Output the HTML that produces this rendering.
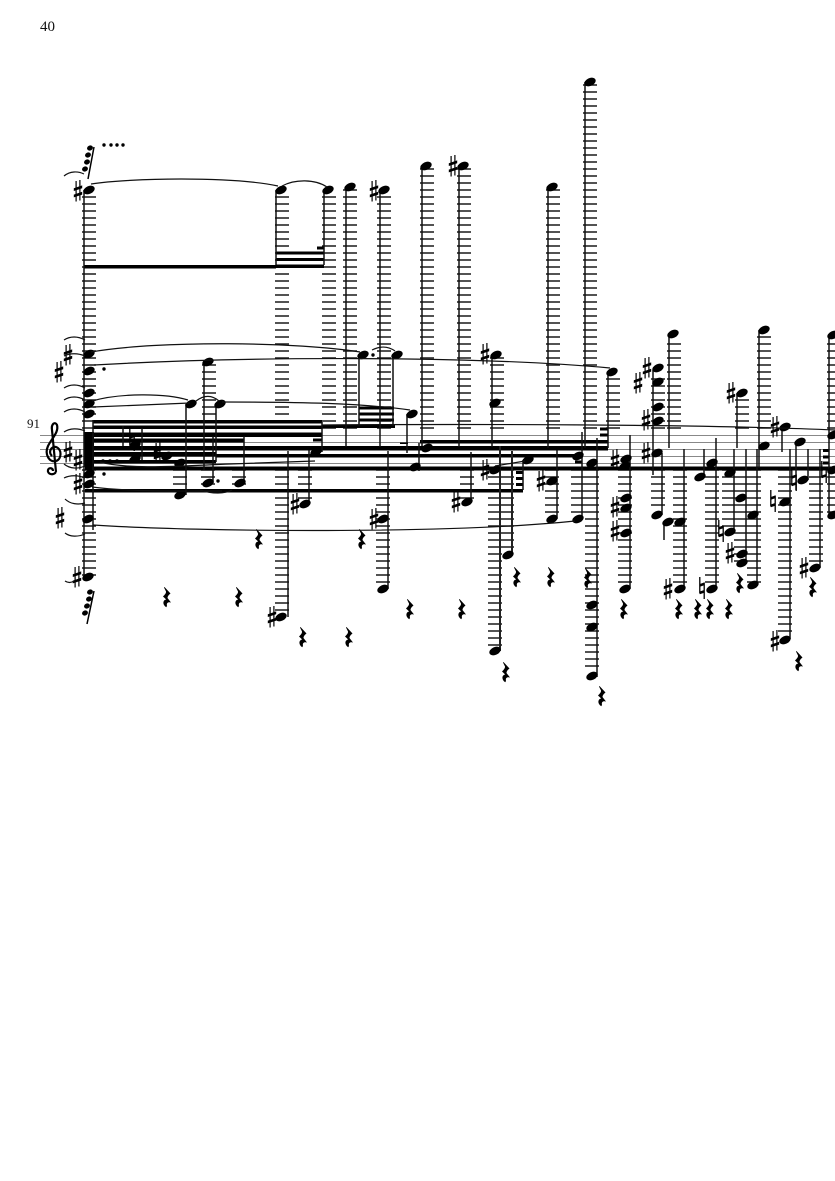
<!DOCTYPE html>
<html><head><meta charset="utf-8"><title>Score page 40</title>
<style>html,body{margin:0;padding:0;background:#fff}svg{display:block}text{font-family:"Liberation Serif",serif;fill:#111}</style></head>
<body>
<svg width="835" height="1181" viewBox="0 0 835 1181" xmlns="http://www.w3.org/2000/svg">
<defs>
<ellipse id="h" rx="6" ry="3.9" transform="rotate(-25)"/>
<ellipse id="g" rx="3" ry="2.5" transform="rotate(-25)"/>
<g id="s"><path d="M-1.9-10V10.5M1.9-11V9.5" stroke="#000" stroke-width="1.2" fill="none"/><path d="M-4.2-2.8L4.2-5.6V-2.8L-4.2 0ZM-4.2 3.6L4.2 .8V3.6L-4.2 6.4Z"/></g>
<g id="n"><path d="M-2.2-11V5.5M2.2-5.5V11" stroke="#000" stroke-width="1.3" fill="none"/><path d="M-2.2-4L2.2-5.5V-2.8L-2.2-1.3ZM-2.2 3.5L2.2 2V4.7L-2.2 6.2Z"/></g>
<path id="r" d="M-2.5-10L3.5-3.5C1.5-2 .5-.5 .5 1L4 5.5C1.5 4.8-.8 5.5 0 9L-.8 10.2C-4.8 7.5-4.2 3-.8 2.5L-4-.5C-2-2.5-.8-4-1-5.5L-3-9.5Z"/>
</defs>

<!-- staff -->
<path d="M40 435.5H835M40 442.5H835M40 449.5H835M40 456.5H835M40 463.5H835" stroke="#888" stroke-width="1.1" fill="none"/>

<!-- ledger stacks -->
<g stroke="#1a1a1a" fill="none" stroke-width="14" stroke-dasharray="1.6 5.4">
<path d="M89 196.2V430M89 469.2V577"/>
<path d="M209 364.2V430M282 196.2V430M329 196.2V430M350 189.2V430M384 196.2V430M427 168.2V430M464 168.2V430M497 357.2V430M553 189.2V430M590 84.2V430M613 378.2V430M658 378.2V430M674 343.2V430M742 399.2V430M764 336.2V430"/>
<path d="M180 469.2V493M208 469.2V486M239 469.2V486M282 469.2V612M305 469.2V500M383 469.2V584M467 469.2V500M495 469.2V647M507 469.2V551M552 469.2V514M578 469.2V514M592 469.2V672M625 469.2V584M658 469.2V510M680 469.2V584M712 469.2V584M729 469.2V528M741 469.2V563M754 469.2V584M785 469.2V636M816 469.2V563"/>
</g>
<g stroke="#1a1a1a" fill="none" stroke-width="8" stroke-dasharray="1.6 5.4"><path d="M831 343.2V430M831 469.2V514"/></g>

<!-- beams -->
<g fill="#000">
<rect x="84" y="265" width="192" height="3.5"/>
<rect x="276" y="251.5" width="48" height="3"/><rect x="276" y="258" width="48" height="3"/><rect x="276" y="264.5" width="48" height="3.5"/><rect x="317" y="246.5" width="7" height="3"/>
<rect x="93" y="420" width="229" height="3.5"/><rect x="93" y="425.5" width="229" height="3.5"/><rect x="93" y="432.5" width="229" height="4.5"/>
<rect x="93" y="438.5" width="151" height="4"/><rect x="93" y="446" width="515" height="4.5"/><rect x="93" y="452" width="123" height="4.5"/><rect x="216" y="454" width="367" height="3.5"/><rect x="93" y="460" width="123" height="3.5"/>
<rect x="420" y="440" width="188" height="3.5"/>
<rect x="85" y="466.5" width="750" height="4"/>
<rect x="85" y="489" width="438" height="3.5"/>
<rect x="322" y="424.5" width="73" height="3.5"/>
<rect x="359" y="406.5" width="35" height="3"/><rect x="359" y="412.5" width="35" height="3"/><rect x="359" y="418.5" width="35" height="3"/>
<rect x="600" y="427.5" width="8" height="3"/><rect x="600" y="433.5" width="8" height="3"/>
<rect x="516" y="471" width="7" height="3"/><rect x="516" y="477" width="7" height="3"/><rect x="516" y="483" width="7" height="3"/>
<rect x="575" y="460.5" width="7" height="3"/><rect x="313" y="438.5" width="9" height="3"/><rect x="400" y="442.5" width="8" height="1.5"/>
<rect x="823" y="449" width="6" height="3"/><rect x="823" y="455.5" width="6" height="3"/><rect x="823" y="461.5" width="6" height="3"/>
<rect x="84" y="432" width="10" height="35"/>
</g>

<!-- stems -->
<path fill="none" stroke="#111" stroke-width="1.5" d="M84 190V577M93 420V530M123 426V446M142 428V460M186 404V495M204 362V470M213 436V483M216 404V462M244 436V483M276 190V265M288 451V617M309 450V504M322 422V452M324 190V265M346 187V447M359 355V426M380 191V447M388 451V589M393 355V426M407 414V453M419 443V471M422 166V446M459 166V447M471 452V502M492 355V447M523 460V490M548 187V448M557 450V519M582 432V519M585 82V448M597 438V677M608 372V448M630 435V589M653 370V475M662 453V515M664 522V540M669 334V448M684 449V589M704 449V477M716 438V589M734 449V532M737 393V448M746 449V563M757 449V585M759 330V468M782 427V452M790 449V639M796 442V490M808 449V480M820 449V568M829 335V515"/>
<path fill="none" stroke="#222" stroke-width="2" d="M500 446V651M512 451V555"/>

<!-- note heads -->
<g fill="#000">
<use href="#h" x="89" y="190"/><use href="#h" x="89" y="354"/><use href="#h" x="89" y="371"/><use href="#h" x="89" y="393"/><use href="#h" x="89" y="404"/><use href="#h" x="89" y="414"/><use href="#h" x="89" y="474"/><use href="#h" x="89" y="484"/><use href="#h" x="88" y="519"/><use href="#h" x="88" y="577"/>
<use href="#h" x="135" y="445"/><use href="#h" x="135" y="459"/><use href="#h" x="167" y="456"/><use href="#h" x="180" y="463"/>
<use href="#h" x="180" y="495"/><use href="#h" x="191" y="404"/><use href="#h" x="208" y="362"/><use href="#h" x="208" y="483"/><use href="#h" x="220" y="404"/><use href="#h" x="240" y="483"/>
<use href="#h" x="281" y="190"/><use href="#h" x="281" y="617"/><use href="#h" x="305" y="504"/><use href="#h" x="316" y="452"/><use href="#h" x="328" y="190"/><use href="#h" x="350" y="187"/><use href="#h" x="363" y="355"/><use href="#h" x="384" y="190"/><use href="#h" x="383" y="519"/><use href="#h" x="383" y="589"/><use href="#h" x="397" y="355"/><use href="#h" x="412" y="414"/><use href="#h" x="415" y="467"/><use href="#h" x="427" y="448"/><use href="#h" x="426" y="166"/>
<use href="#h" x="463" y="166"/><use href="#h" x="467" y="502"/><use href="#h" x="496" y="355"/><use href="#h" x="495" y="403"/><use href="#h" x="495" y="470"/><use href="#h" x="495" y="651"/><use href="#h" x="508" y="555"/><use href="#h" x="528" y="460"/><use href="#h" x="552" y="187"/><use href="#h" x="552" y="481"/><use href="#h" x="552" y="519"/><use href="#h" x="578" y="456"/><use href="#h" x="578" y="519"/><use href="#h" x="590" y="82"/><use href="#h" x="592" y="463"/><use href="#h" x="592" y="605"/><use href="#h" x="592" y="627"/><use href="#h" x="592" y="676"/><use href="#h" x="612" y="372"/>
<use href="#h" x="626" y="459"/><use href="#h" x="625" y="466"/><use href="#h" x="626" y="498"/><use href="#h" x="626" y="508"/><use href="#h" x="626" y="533"/><use href="#h" x="625" y="589"/>
<use href="#h" x="658" y="368"/><use href="#h" x="658" y="382"/><use href="#h" x="658" y="407"/><use href="#h" x="658" y="421"/><use href="#h" x="657" y="453"/><use href="#h" x="657" y="515"/><use href="#h" x="668" y="522"/><use href="#h" x="673" y="334"/><use href="#h" x="680" y="522"/><use href="#h" x="680" y="589"/><use href="#h" x="700" y="477"/><use href="#h" x="712" y="463"/><use href="#h" x="712" y="589"/><use href="#h" x="730" y="473"/><use href="#h" x="730" y="532"/><use href="#h" x="741" y="498"/><use href="#h" x="742" y="554"/><use href="#h" x="742" y="563"/><use href="#h" x="742" y="393"/><use href="#h" x="753" y="515"/><use href="#h" x="753" y="585"/><use href="#h" x="764" y="330"/><use href="#h" x="764" y="446"/><use href="#h" x="785" y="427"/><use href="#h" x="785" y="502"/><use href="#h" x="785" y="640"/><use href="#h" x="800" y="442"/><use href="#h" x="803" y="480"/><use href="#h" x="815" y="568"/><use href="#h" x="833" y="335"/><use href="#h" x="833" y="435"/><use href="#h" x="833" y="470"/><use href="#h" x="833" y="515"/>
<!-- grace notes -->
<use href="#g" x="90" y="148"/><use href="#g" x="88" y="155"/><use href="#g" x="87" y="162"/><use href="#g" x="85" y="169"/>
<use href="#g" x="90" y="592"/><use href="#g" x="89" y="599"/><use href="#g" x="87" y="606"/><use href="#g" x="85" y="613"/>
<!-- dots -->
<circle cx="104" cy="145" r="1.7"/><circle cx="111" cy="145" r="1.7"/><circle cx="117" cy="145" r="1.7"/><circle cx="123" cy="145" r="1.7"/>
<circle cx="104" cy="369" r="1.7"/><circle cx="104" cy="474" r="1.7"/><circle cx="103" cy="461" r="1.7"/><circle cx="110" cy="461" r="1.7"/><circle cx="117" cy="461" r="1.7"/><circle cx="218" cy="481" r="1.7"/><circle cx="373" cy="355" r="1.7"/>
</g>
<path d="M94 147L88 179M94 591L87 624" stroke="#000" stroke-width="1.5" fill="none"/>

<!-- accidentals -->
<g fill="#000">
<use href="#s" x="78" y="191"/><use href="#s" x="68" y="355"/><use href="#s" x="59" y="372"/><use href="#s" x="68" y="452"/><use href="#s" x="78" y="460"/><use href="#s" x="78" y="484"/><use href="#s" x="60" y="518"/><use href="#s" x="77" y="577"/>
<use href="#s" x="158" y="453"/><use href="#s" x="272" y="617"/><use href="#s" x="295" y="504"/><use href="#s" x="374" y="519"/><use href="#s" x="374" y="191"/><use href="#s" x="453" y="166"/><use href="#s" x="456" y="502"/><use href="#s" x="485" y="354"/><use href="#s" x="485" y="470"/><use href="#s" x="541" y="481"/>
<use href="#s" x="615" y="460"/><use href="#s" x="615" y="507"/><use href="#s" x="615" y="531"/><use href="#s" x="647" y="368"/><use href="#s" x="638" y="383"/><use href="#s" x="646" y="420"/><use href="#s" x="646" y="453"/><use href="#s" x="668" y="589"/><use href="#s" x="731" y="393"/><use href="#s" x="730" y="553"/><use href="#s" x="775" y="427"/><use href="#s" x="775" y="641"/><use href="#s" x="804" y="568"/>
<use href="#n" x="721" y="531"/><use href="#n" x="702" y="588"/><use href="#n" x="773" y="501"/><use href="#n" x="794" y="480"/><use href="#n" x="824" y="472"/><use href="#n" x="132" y="440"/>
</g>

<!-- rests -->
<g fill="#000">
<use href="#r" x="259" y="539"/><use href="#r" x="362" y="539"/><use href="#r" x="167" y="597"/><use href="#r" x="239" y="597"/><use href="#r" x="303" y="637"/><use href="#r" x="349" y="637"/><use href="#r" x="410" y="609"/><use href="#r" x="462" y="609"/><use href="#r" x="517" y="577"/><use href="#r" x="551" y="577"/><use href="#r" x="588" y="578"/><use href="#r" x="506" y="672"/><use href="#r" x="602" y="696"/><use href="#r" x="624" y="609"/><use href="#r" x="679" y="609"/><use href="#r" x="698" y="609"/><use href="#r" x="710" y="609"/><use href="#r" x="729" y="609"/><use href="#r" x="740" y="583"/><use href="#r" x="813" y="587"/><use href="#r" x="799" y="661"/>
</g>

<!-- slurs and ties -->
<g fill="none" stroke="#111" stroke-width="1.2">
<path d="M91 184C130 178 230 176 278 186"/>
<path d="M282 186C295 179 315 179 327 187"/>
<path d="M91 352C160 340 300 342 360 352"/>
<path d="M94 365C250 356 480 356 610 368"/>
<path d="M92 401C120 393 165 393 188 400"/>
<path d="M93 407L190 403"/>
<path d="M196 401C204 395 212 395 219 401"/>
<path d="M222 402C300 402 360 403 410 410"/>
<path d="M372 350C380 346 388 346 395 351"/>
<path d="M322 425C450 424 700 424 835 430"/>
<path d="M93 525C200 532 450 534 575 521"/>
<path d="M92 487C130 492 190 491 222 491"/>
<path d="M200 490C212 494 225 494 232 490"/>
<path d="M100 462C130 470 180 466 230 464L315 461"/>
<path d="M495 466L525 461"/>
<path d="M64 176C70 171 78 171 84 174"/>
<path d="M64 340C70 336 78 336 85 340"/>
<path d="M64 356C70 353 78 353 85 356"/>
<path d="M64 388C70 384 78 384 85 388"/>
<path d="M64 400C70 396 78 396 85 400"/>
<path d="M64 412C70 408 78 408 85 412"/>
<path d="M64 432C70 428 78 428 85 431"/>
<path d="M64 464C70 469 78 469 85 466"/>
<path d="M64 478C70 475 78 475 85 478"/>
<path d="M65 499C70 504 78 505 85 503"/>
<path d="M65 533C70 537 78 537 85 534"/>
<path d="M65 581C68 583 71 583 74 581"/>
</g>

<!-- treble clef -->
<path fill="none" stroke="#000" stroke-width="2.2" d="M56 472C53 476 47 474 48 470C49 467 53 468 53 471M56 472L52 430C51 424 55 421 57 425C59 432 52 438 48 446C44 455 50 463 56 461C62 459 62 449 56 447C51 446 48 452 52 456"/>

<text x="27" y="428" font-size="13">91</text>
<text x="40" y="31" font-size="15">40</text>
</svg>
</body></html>
